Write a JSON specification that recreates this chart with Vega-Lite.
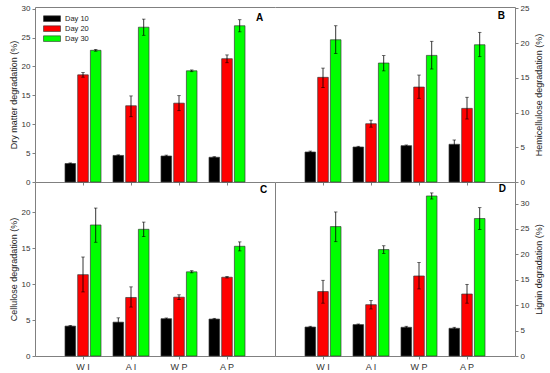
{
  "$schema": "https://vega.github.io/schema/vega-lite/v6.json",
  "padding": {"left": 9, "top": 4, "right": 4, "bottom": 4},
  "background": "white",
  "config": {
    "view": {"stroke": null},
    "font": "Liberation Sans",
    "axis": {"domainColor": "#808080", "tickColor": "#808080", "labelColor": "#333333", "titleColor": "#222222", "labelFontSize": 8, "titleFontSize": 9, "titleFontWeight": "normal", "tickSize": 3, "labelPadding": 2, "titlePadding": 3, "grid": false, "domainWidth": 1, "tickWidth": 1, "labelFont": "Liberation Sans", "titleFont": "Liberation Sans"}
  },
  "datasets": {
    "d": [
      {"panel": "A", "trt": "W I", "day": "Day 10", "v": 3.2, "lo": 3.1, "hi": 3.3},
      {"panel": "A", "trt": "W I", "day": "Day 20", "v": 18.55, "lo": 18.15, "hi": 18.95},
      {"panel": "A", "trt": "W I", "day": "Day 30", "v": 22.8, "lo": 22.65, "hi": 22.95},
      {"panel": "A", "trt": "A I", "day": "Day 10", "v": 4.6, "lo": 4.5, "hi": 4.7},
      {"panel": "A", "trt": "A I", "day": "Day 20", "v": 13.2, "lo": 11.3, "hi": 14.9},
      {"panel": "A", "trt": "A I", "day": "Day 30", "v": 26.8, "lo": 25.4, "hi": 28.2},
      {"panel": "A", "trt": "W P", "day": "Day 10", "v": 4.5, "lo": 4.35, "hi": 4.65},
      {"panel": "A", "trt": "W P", "day": "Day 20", "v": 13.65, "lo": 12.35, "hi": 14.95},
      {"panel": "A", "trt": "W P", "day": "Day 30", "v": 19.25, "lo": 19.1, "hi": 19.4},
      {"panel": "A", "trt": "A P", "day": "Day 10", "v": 4.28, "lo": 4.18, "hi": 4.38},
      {"panel": "A", "trt": "A P", "day": "Day 20", "v": 21.35, "lo": 20.65, "hi": 22.0},
      {"panel": "A", "trt": "A P", "day": "Day 30", "v": 27.05, "lo": 26.0, "hi": 28.1},
      {"panel": "B", "trt": "W I", "day": "Day 10", "v": 4.32, "lo": 4.2, "hi": 4.45},
      {"panel": "B", "trt": "W I", "day": "Day 20", "v": 15.07, "lo": 13.6, "hi": 16.4},
      {"panel": "B", "trt": "W I", "day": "Day 30", "v": 20.48, "lo": 18.5, "hi": 22.5},
      {"panel": "B", "trt": "A I", "day": "Day 10", "v": 5.04, "lo": 4.94, "hi": 5.14},
      {"panel": "B", "trt": "A I", "day": "Day 20", "v": 8.39, "lo": 7.9, "hi": 8.9},
      {"panel": "B", "trt": "A I", "day": "Day 30", "v": 17.13, "lo": 16.0, "hi": 18.2},
      {"panel": "B", "trt": "W P", "day": "Day 10", "v": 5.23, "lo": 5.13, "hi": 5.33},
      {"panel": "B", "trt": "W P", "day": "Day 20", "v": 13.67, "lo": 12.05, "hi": 15.4},
      {"panel": "B", "trt": "W P", "day": "Day 30", "v": 18.23, "lo": 16.27, "hi": 20.26},
      {"panel": "B", "trt": "A P", "day": "Day 10", "v": 5.43, "lo": 4.85, "hi": 6.05},
      {"panel": "B", "trt": "A P", "day": "Day 20", "v": 10.6, "lo": 9.07, "hi": 12.2},
      {"panel": "B", "trt": "A P", "day": "Day 30", "v": 19.76, "lo": 18.05, "hi": 21.55},
      {"panel": "C", "trt": "W I", "day": "Day 10", "v": 4.15, "lo": 4.05, "hi": 4.25},
      {"panel": "C", "trt": "W I", "day": "Day 20", "v": 11.3, "lo": 8.9, "hi": 13.75},
      {"panel": "C", "trt": "W I", "day": "Day 30", "v": 18.2, "lo": 15.8, "hi": 20.55},
      {"panel": "C", "trt": "A I", "day": "Day 10", "v": 4.7, "lo": 4.1, "hi": 5.3},
      {"panel": "C", "trt": "A I", "day": "Day 20", "v": 8.13, "lo": 6.8, "hi": 9.6},
      {"panel": "C", "trt": "A I", "day": "Day 30", "v": 17.6, "lo": 16.6, "hi": 18.6},
      {"panel": "C", "trt": "W P", "day": "Day 10", "v": 5.18, "lo": 5.08, "hi": 5.28},
      {"panel": "C", "trt": "W P", "day": "Day 20", "v": 8.17, "lo": 7.85, "hi": 8.5},
      {"panel": "C", "trt": "W P", "day": "Day 30", "v": 11.69, "lo": 11.55, "hi": 11.85},
      {"panel": "C", "trt": "A P", "day": "Day 10", "v": 5.13, "lo": 5.03, "hi": 5.23},
      {"panel": "C", "trt": "A P", "day": "Day 20", "v": 10.94, "lo": 10.84, "hi": 11.04},
      {"panel": "C", "trt": "A P", "day": "Day 30", "v": 15.24, "lo": 14.6, "hi": 15.85},
      {"panel": "D", "trt": "W I", "day": "Day 10", "v": 5.7, "lo": 5.55, "hi": 5.85},
      {"panel": "D", "trt": "W I", "day": "Day 20", "v": 12.68, "lo": 10.4, "hi": 14.9},
      {"panel": "D", "trt": "W I", "day": "Day 30", "v": 25.47, "lo": 22.5, "hi": 28.35},
      {"panel": "D", "trt": "A I", "day": "Day 10", "v": 6.18, "lo": 6.05, "hi": 6.3},
      {"panel": "D", "trt": "A I", "day": "Day 20", "v": 10.1, "lo": 9.25, "hi": 10.9},
      {"panel": "D", "trt": "A I", "day": "Day 30", "v": 20.94, "lo": 20.2, "hi": 21.7},
      {"panel": "D", "trt": "W P", "day": "Day 10", "v": 5.65, "lo": 5.45, "hi": 5.85},
      {"panel": "D", "trt": "W P", "day": "Day 20", "v": 15.75, "lo": 13.2, "hi": 18.4},
      {"panel": "D", "trt": "W P", "day": "Day 30", "v": 31.5, "lo": 30.9, "hi": 32.1},
      {"panel": "D", "trt": "A P", "day": "Day 10", "v": 5.45, "lo": 5.25, "hi": 5.65},
      {"panel": "D", "trt": "A P", "day": "Day 20", "v": 12.2, "lo": 10.4, "hi": 14.1},
      {"panel": "D", "trt": "A P", "day": "Day 30", "v": 27.05, "lo": 24.9, "hi": 29.2}
    ]
  },
  "data": {"name": "d"},
  "columns": 2,
  "spacing": 0,
  "bounds": "flush",
  "resolve": {"scale": {"color": "independent"}},
  "concat": [
    {
      "width": 240, "height": 175,
      "transform": [{"filter": "datum.panel == 'A'"}],
      "layer": [
        {
          "mark": {"type": "bar", "stroke": "#3a3a3a", "strokeWidth": 0.7},
          "encoding": {
            "x": {"field": "trt", "type": "nominal", "sort": ["W I", "A I", "W P", "A P"], "scale": {"paddingInner": 0.25, "paddingOuter": 0.625}, "axis": {"orient": "bottom", "labels": false, "title": null}},
            "xOffset": {"field": "day", "type": "nominal", "scale": {"paddingInner": 0.165, "paddingOuter": 0}},
            "y": {"field": "v", "type": "quantitative", "scale": {"domain": [0, 30.3], "nice": false}, "axis": {"values": [0, 5, 10, 15, 20, 25, 30], "title": "Dry matter degradation (%)"}},
            "color": {"field": "day", "type": "nominal", "scale": {"domain": ["Day 10", "Day 20", "Day 30"], "range": ["#000000", "#ff0000", "#00ff00"]},
              "legend": {"orient": "none", "legendX": 8, "legendY": 7, "title": null, "symbolType": "M-1,-0.33H1V0.33H-1Z", "symbolSize": 289, "symbolStrokeColor": "#333333", "symbolStrokeWidth": 0.6, "labelFontSize": 7.5, "labelOffset": 4, "clipHeight": 9.3, "rowPadding": 0, "padding": 0, "labelColor": "#222222", "labelFont": "Liberation Sans"}}
          }
        },
        {
          "mark": {"type": "rule", "color": "black", "strokeWidth": 0.8},
          "encoding": {
            "x": {"field": "trt", "type": "nominal", "sort": ["W I", "A I", "W P", "A P"], "axis": {"orient": "top", "labels": false, "ticks": false, "title": null}},
            "xOffset": {"field": "day", "type": "nominal"},
            "y": {"field": "lo", "type": "quantitative", "scale": {"domain": [0, 30.3], "nice": false}, "axis": null},
            "y2": {"field": "hi"}
          }
        },
        {
          "mark": {"type": "tick", "color": "black", "size": 3.5, "thickness": 0.8},
          "encoding": {
            "x": {"field": "trt", "type": "nominal", "sort": ["W I", "A I", "W P", "A P"], "axis": null},
            "xOffset": {"field": "day", "type": "nominal"},
            "y": {"field": "lo", "type": "quantitative", "scale": {"domain": [0, 30.3], "nice": false}, "axis": null}
          }
        },
        {
          "mark": {"type": "tick", "color": "black", "size": 3.5, "thickness": 0.8},
          "encoding": {
            "x": {"field": "trt", "type": "nominal", "sort": ["W I", "A I", "W P", "A P"], "axis": null},
            "xOffset": {"field": "day", "type": "nominal"},
            "y": {"field": "hi", "type": "quantitative", "scale": {"domain": [0, 30.3], "nice": false}, "axis": null}
          }
        },
        {
          "data": {"values": [{"panel": "A", "lab": "A"}]},
          "mark": {"type": "text", "align": "right", "baseline": "alphabetic", "dx": 36.3, "fontSize": 10, "fontWeight": "bold", "color": "black", "font": "Liberation Sans"},
          "encoding": {
            "x": {"datum": "A P", "type": "nominal", "axis": null},
            "y": {"datum": 27.82, "type": "quantitative", "axis": null},
            "text": {"field": "lab"}
          }
        }
      ],
      "resolve": {"axis": {"x": "independent", "y": "independent"}}
    },
    {
      "width": 240, "height": 175,
      "transform": [{"filter": "datum.panel == 'B'"}],
      "layer": [
        {
          "mark": {"type": "bar", "stroke": "#3a3a3a", "strokeWidth": 0.7},
          "encoding": {
            "x": {"field": "trt", "type": "nominal", "sort": ["W I", "A I", "W P", "A P"], "scale": {"paddingInner": 0.25, "paddingOuter": 0.625}, "axis": {"orient": "bottom", "labels": false, "title": null}},
            "xOffset": {"field": "day", "type": "nominal", "scale": {"paddingInner": 0.165, "paddingOuter": 0}},
            "y": {"field": "v", "type": "quantitative", "scale": {"domain": [0, 25.2], "nice": false}, "axis": {"orient": "right", "values": [0, 5, 10, 15, 20, 25], "title": "Hemicellulose degradation (%)", "titleAngle": 270, "titleBaseline": "top", "titlePadding": 6}},
            "color": {"field": "day", "type": "nominal", "scale": {"domain": ["Day 10", "Day 20", "Day 30"], "range": ["#000000", "#ff0000", "#00ff00"]}, "legend": null}
          }
        },
        {
          "mark": {"type": "rule", "color": "black", "strokeWidth": 0.8},
          "encoding": {
            "x": {"field": "trt", "type": "nominal", "sort": ["W I", "A I", "W P", "A P"], "axis": {"orient": "top", "labels": false, "ticks": false, "title": null}},
            "xOffset": {"field": "day", "type": "nominal"},
            "y": {"field": "lo", "type": "quantitative", "scale": {"domain": [0, 25.2], "nice": false}, "axis": null},
            "y2": {"field": "hi"}
          }
        },
        {
          "mark": {"type": "tick", "color": "black", "size": 3.5, "thickness": 0.8},
          "encoding": {
            "x": {"field": "trt", "type": "nominal", "sort": ["W I", "A I", "W P", "A P"], "axis": null},
            "xOffset": {"field": "day", "type": "nominal"},
            "y": {"field": "lo", "type": "quantitative", "scale": {"domain": [0, 25.2], "nice": false}, "axis": null}
          }
        },
        {
          "mark": {"type": "tick", "color": "black", "size": 3.5, "thickness": 0.8},
          "encoding": {
            "x": {"field": "trt", "type": "nominal", "sort": ["W I", "A I", "W P", "A P"], "axis": null},
            "xOffset": {"field": "day", "type": "nominal"},
            "y": {"field": "hi", "type": "quantitative", "scale": {"domain": [0, 25.2], "nice": false}, "axis": null}
          }
        },
        {
          "data": {"values": [{"panel": "B", "lab": "B"}]},
          "mark": {"type": "text", "align": "right", "baseline": "alphabetic", "dx": 38, "fontSize": 10, "fontWeight": "bold", "color": "black", "font": "Liberation Sans"},
          "encoding": {
            "x": {"datum": "A P", "type": "nominal", "axis": null},
            "y": {"datum": 23.47, "type": "quantitative", "axis": null},
            "text": {"field": "lab"}
          }
        }
      ],
      "resolve": {"axis": {"x": "independent", "y": "independent"}}
    },
    {
      "width": 240, "height": 174,
      "transform": [{"filter": "datum.panel == 'C'"}],
      "layer": [
        {
          "mark": {"type": "bar", "stroke": "#3a3a3a", "strokeWidth": 0.7},
          "encoding": {
            "x": {"field": "trt", "type": "nominal", "sort": ["W I", "A I", "W P", "A P"], "scale": {"paddingInner": 0.25, "paddingOuter": 0.625}, "axis": {"orient": "bottom", "title": null, "labelAngle": 0, "labelFontSize": 9, "labelPadding": 3}},
            "xOffset": {"field": "day", "type": "nominal", "scale": {"paddingInner": 0.165, "paddingOuter": 0}},
            "y": {"field": "v", "type": "quantitative", "scale": {"domain": [0, 24.17], "nice": false}, "axis": {"values": [0, 5, 10, 15, 20], "title": "Cellulose degradation (%)"}},
            "color": {"field": "day", "type": "nominal", "scale": {"domain": ["Day 10", "Day 20", "Day 30"], "range": ["#000000", "#ff0000", "#00ff00"]}, "legend": null}
          }
        },
        {
          "mark": {"type": "rule", "color": "black", "strokeWidth": 0.8},
          "encoding": {
            "x": {"field": "trt", "type": "nominal", "sort": ["W I", "A I", "W P", "A P"], "axis": null},
            "xOffset": {"field": "day", "type": "nominal"},
            "y": {"field": "lo", "type": "quantitative", "scale": {"domain": [0, 24.17], "nice": false}, "axis": {"orient": "right", "labels": false, "ticks": false, "title": null}},
            "y2": {"field": "hi"}
          }
        },
        {
          "mark": {"type": "tick", "color": "black", "size": 3.5, "thickness": 0.8},
          "encoding": {
            "x": {"field": "trt", "type": "nominal", "sort": ["W I", "A I", "W P", "A P"], "axis": null},
            "xOffset": {"field": "day", "type": "nominal"},
            "y": {"field": "lo", "type": "quantitative", "scale": {"domain": [0, 24.17], "nice": false}, "axis": null}
          }
        },
        {
          "mark": {"type": "tick", "color": "black", "size": 3.5, "thickness": 0.8},
          "encoding": {
            "x": {"field": "trt", "type": "nominal", "sort": ["W I", "A I", "W P", "A P"], "axis": null},
            "xOffset": {"field": "day", "type": "nominal"},
            "y": {"field": "hi", "type": "quantitative", "scale": {"domain": [0, 24.17], "nice": false}, "axis": null}
          }
        },
        {
          "data": {"values": [{"panel": "C", "lab": "C"}]},
          "mark": {"type": "text", "align": "right", "baseline": "alphabetic", "dx": 40.3, "fontSize": 10, "fontWeight": "bold", "color": "black", "font": "Liberation Sans"},
          "encoding": {
            "x": {"datum": "A P", "type": "nominal", "axis": null},
            "y": {"datum": 22.6, "type": "quantitative", "axis": null},
            "text": {"field": "lab"}
          }
        }
      ],
      "resolve": {"axis": {"x": "independent", "y": "independent"}}
    },
    {
      "width": 240, "height": 174,
      "transform": [{"filter": "datum.panel == 'D'"}],
      "layer": [
        {
          "mark": {"type": "bar", "stroke": "#3a3a3a", "strokeWidth": 0.7},
          "encoding": {
            "x": {"field": "trt", "type": "nominal", "sort": ["W I", "A I", "W P", "A P"], "scale": {"paddingInner": 0.25, "paddingOuter": 0.625}, "axis": {"orient": "bottom", "title": null, "labelAngle": 0, "labelFontSize": 9, "labelPadding": 3}},
            "xOffset": {"field": "day", "type": "nominal", "scale": {"paddingInner": 0.165, "paddingOuter": 0}},
            "y": {"field": "v", "type": "quantitative", "scale": {"domain": [0, 34.25], "nice": false}, "axis": {"orient": "right", "values": [0, 5, 10, 15, 20, 25, 30], "title": "Lignin degradation (%)", "titleAngle": 270, "titleBaseline": "top", "titlePadding": 6}},
            "color": {"field": "day", "type": "nominal", "scale": {"domain": ["Day 10", "Day 20", "Day 30"], "range": ["#000000", "#ff0000", "#00ff00"]}, "legend": null}
          }
        },
        {
          "mark": {"type": "rule", "color": "black", "strokeWidth": 0.8},
          "encoding": {
            "x": {"field": "trt", "type": "nominal", "sort": ["W I", "A I", "W P", "A P"], "axis": null},
            "xOffset": {"field": "day", "type": "nominal"},
            "y": {"field": "lo", "type": "quantitative", "scale": {"domain": [0, 34.25], "nice": false}, "axis": null},
            "y2": {"field": "hi"}
          }
        },
        {
          "mark": {"type": "tick", "color": "black", "size": 3.5, "thickness": 0.8},
          "encoding": {
            "x": {"field": "trt", "type": "nominal", "sort": ["W I", "A I", "W P", "A P"], "axis": null},
            "xOffset": {"field": "day", "type": "nominal"},
            "y": {"field": "lo", "type": "quantitative", "scale": {"domain": [0, 34.25], "nice": false}, "axis": null}
          }
        },
        {
          "mark": {"type": "tick", "color": "black", "size": 3.5, "thickness": 0.8},
          "encoding": {
            "x": {"field": "trt", "type": "nominal", "sort": ["W I", "A I", "W P", "A P"], "axis": null},
            "xOffset": {"field": "day", "type": "nominal"},
            "y": {"field": "hi", "type": "quantitative", "scale": {"domain": [0, 34.25], "nice": false}, "axis": null}
          }
        },
        {
          "data": {"values": [{"panel": "D", "lab": "D"}]},
          "mark": {"type": "text", "align": "right", "baseline": "alphabetic", "dx": 39, "fontSize": 10, "fontWeight": "bold", "color": "black", "font": "Liberation Sans"},
          "encoding": {
            "x": {"datum": "A P", "type": "nominal", "axis": null},
            "y": {"datum": 32.22, "type": "quantitative", "axis": null},
            "text": {"field": "lab"}
          }
        }
      ],
      "resolve": {"axis": {"x": "independent", "y": "independent"}}
    }
  ]
}
